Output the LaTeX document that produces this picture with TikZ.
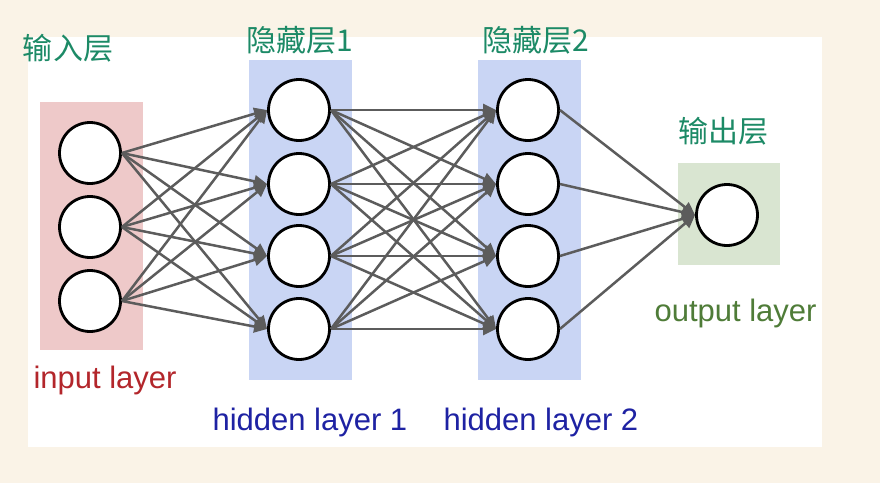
\documentclass[tikz,border=0pt]{standalone}
\usepackage{fontspec}
\setmainfont{Liberation Sans}
\newfontfamily\cjk{Noto Sans CJK SC}
\usetikzlibrary{arrows.meta}
\definecolor{cream}{HTML}{FAF3E7}
\definecolor{inpink}{HTML}{EEC9C9}
\definecolor{hidblue}{HTML}{C9D5F4}
\definecolor{outgreen}{HTML}{D9E5D1}
\definecolor{inred}{HTML}{B3262B}
\definecolor{hidnavy}{HTML}{1E22A3}
\definecolor{outolive}{HTML}{4F7C38}
\definecolor{handgreen}{HTML}{1C8A66}
\definecolor{linkgray}{HTML}{5C5C5C}
\begin{document}
\begin{tikzpicture}[x=1pt, y=-1pt,
    neuron/.style={circle, draw, line width=2.8pt, fill=white, minimum size=61pt, inner sep=0pt},
    link/.style={draw=linkgray, line width=2.5pt, -{Triangle[length=13pt, width=12pt]}},
    layerlab/.style={font=\fontsize{31}{31}\selectfont, anchor=base west},
    handlab/.style={text=handgreen, font=\cjk\fontsize{30}{30}\selectfont}]
    \useasboundingbox (0,0) rectangle (880,483);
    \fill[cream] (0,0) rectangle (880,483);
    \fill[white] (28,37) rectangle (822,447);
    % layer boxes
    \fill[inpink] (40,102) rectangle (143,350);
    \fill[hidblue] (249,60) rectangle (352,380);
    \fill[hidblue] (478,60) rectangle (581,380);
    \fill[outgreen] (678,163) rectangle (780,265);
    % neurons
    \foreach \i/\y in {1/153, 2/227, 3/301}
        \node[neuron] (in\i) at (90,\y) {};
    \foreach \i/\y in {1/110, 2/184, 3/256, 4/329}{
        \node[neuron] (ha\i) at (299,\y) {};
        \node[neuron] (hb\i) at (528,\y) {};
    }
    \node[neuron] (out) at (727,215) {};
    % connections
    \foreach \i in {1,2,3}
        \foreach \j in {1,...,4}
            \draw[link] (in\i.east) -- (ha\j.west);
    \foreach \i in {1,...,4}{
        \foreach \j in {1,...,4}
            \draw[link] (ha\i.east) -- (hb\j.west);
        \draw[link] (hb\i.east) -- (out.west);
    }
    % labels
    \node[layerlab, text=inred] (inlab) at (30,388) {input layer};
    \node[layerlab, text=hidnavy] (halab) at (209,430) {hidden layer 1};
    \node[layerlab, text=hidnavy] (hblab) at (440,430) {hidden layer 2};
    \node[layerlab, text=outolive] (outlab) at (651,321) {output layer};
    \node[handlab] (inhand) at (68,48) {输入层};
    \node[handlab] (hahand) at (300,40) {隐藏层1};
    \node[handlab] (hbhand) at (536,40) {隐藏层2};
    \node[handlab] (outhand) at (723,131) {输出层};
\end{tikzpicture}
\end{document}
